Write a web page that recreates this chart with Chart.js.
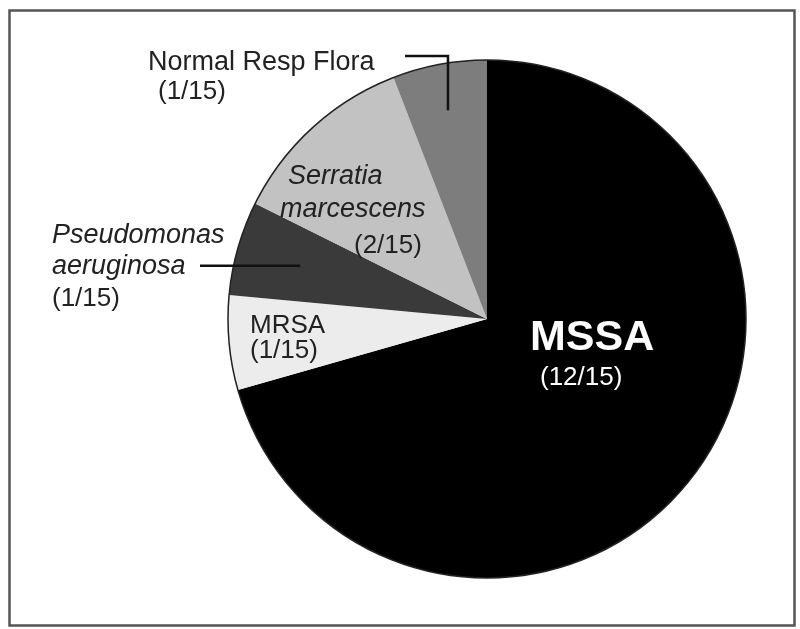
<!DOCTYPE html>
<html>
<head>
<meta charset="utf-8">
<script src="https://cdn.jsdelivr.net/npm/chart.js@4.4.0/dist/chart.umd.min.js"></script>
<style>
  html, body { margin: 0; padding: 0; background: #fff; }
  #wrap { width: 800px; height: 629px; }
</style>
</head>
<body>
<div id="wrap"><canvas id="pie" width="800" height="629"></canvas></div>
<script>
// isolates per organism, clockwise from 12 o'clock
const categories = ['MSSA', 'MRSA', 'Pseudomonas aeruginosa', 'Serratia marcescens', 'Normal Resp Flora'];
const counts = [12, 1, 1, 2, 1];
const countLabels = ['(12/15)', '(1/15)', '(1/15)', '(2/15)', '(1/15)'];
const sliceColors = ['#000000', '#ececec', '#3a3a3a', '#c2c2c2', '#7d7d7d'];

const FONT = "'Liberation Sans', Arial, Helvetica, sans-serif";

// text lines for each slice, offsets are from the pie centre
const labelLines = [
  [
    { text: 'MSSA', dx: 43, dy: 31, font: 'bold 43px ' + FONT, color: '#fff' },
    { text: countLabels[0], dx: 53, dy: 66, font: '26px ' + FONT, color: '#fff' }
  ],
  [
    { text: 'MRSA', dx: -237, dy: 14, font: '26px ' + FONT, color: '#222' },
    { text: countLabels[1], dx: -237, dy: 39, font: '26px ' + FONT, color: '#222' }
  ],
  [
    { text: 'Pseudomonas', dx: -435, dy: -76, font: 'italic 27px ' + FONT, color: '#222' },
    { text: 'aeruginosa', dx: -435, dy: -45, font: 'italic 27px ' + FONT, color: '#222' },
    { text: countLabels[2], dx: -435, dy: -13, font: '26px ' + FONT, color: '#222' }
  ],
  [
    { text: 'Serratia', dx: -199, dy: -135, font: 'italic 27px ' + FONT, color: '#222' },
    { text: 'marcescens', dx: -207, dy: -102, font: 'italic 27px ' + FONT, color: '#222' },
    { text: countLabels[3], dx: -133, dy: -66, font: '26px ' + FONT, color: '#222' }
  ],
  [
    { text: 'Normal Resp Flora', dx: -339, dy: -249, font: '27px ' + FONT, color: '#222' },
    { text: countLabels[4], dx: -329, dy: -220, font: '26px ' + FONT, color: '#222' }
  ]
];

// leader lines: slice index, where it starts, how deep into the slice it ends
const leaders = [
  { index: 4, fromDx: -82, fromDy: -263, depth: 0.82, elbow: true },
  { index: 2, fromDx: -287, depth: 0.75, elbow: false }
];

const annotate = {
  id: 'annotate',
  afterDraw(chart) {
    const ctx = chart.ctx;
    const arcs = chart.getDatasetMeta(0).data;
    const cx = arcs[0].x, cy = arcs[0].y, r = arcs[0].outerRadius;

    ctx.save();
    // outline of the pie
    ctx.strokeStyle = '#222';
    ctx.lineWidth = 1.5;
    ctx.beginPath();
    ctx.arc(cx, cy, r, 0, Math.PI * 2);
    ctx.stroke();

    // leader lines
    ctx.strokeStyle = '#111';
    ctx.lineWidth = 2.5;
    leaders.forEach(l => {
      const a = arcs[l.index];
      const mid = (a.startAngle + a.endAngle) / 2;
      const ex = cx + Math.cos(mid) * r * l.depth;
      const ey = cy + Math.sin(mid) * r * l.depth;
      ctx.beginPath();
      if (l.elbow) {
        ctx.moveTo(cx + l.fromDx, cy + l.fromDy);
        ctx.lineTo(ex, cy + l.fromDy);
        ctx.lineTo(ex, ey);
      } else {
        ctx.moveTo(cx + l.fromDx, ey);
        ctx.lineTo(ex, ey);
      }
      ctx.stroke();
    });

    // labels
    ctx.textAlign = 'left';
    ctx.textBaseline = 'alphabetic';
    labelLines.forEach(lines => {
      lines.forEach(t => {
        ctx.font = t.font;
        ctx.fillStyle = t.color;
        ctx.fillText(t.text, cx + t.dx, cy + t.dy);
      });
    });

    // figure frame
    ctx.strokeStyle = '#555';
    ctx.lineWidth = 2.5;
    ctx.strokeRect(9.5, 10.5, 785, 615);
    ctx.restore();
  }
};

new Chart(document.getElementById('pie'), {
  type: 'pie',
  data: {
    labels: categories,
    datasets: [{
      data: counts,
      backgroundColor: sliceColors,
      borderWidth: 0,
      hoverOffset: 0,
      hoverBorderWidth: 0
    }]
  },
  options: {
    responsive: false,
    animation: false,
    events: [],
    layout: { padding: { left: 228, right: 54, top: 60, bottom: 51 } },
    plugins: {
      legend: { display: false },
      tooltip: { enabled: false }
    }
  },
  plugins: [annotate]
});
</script>
</body>
</html>
